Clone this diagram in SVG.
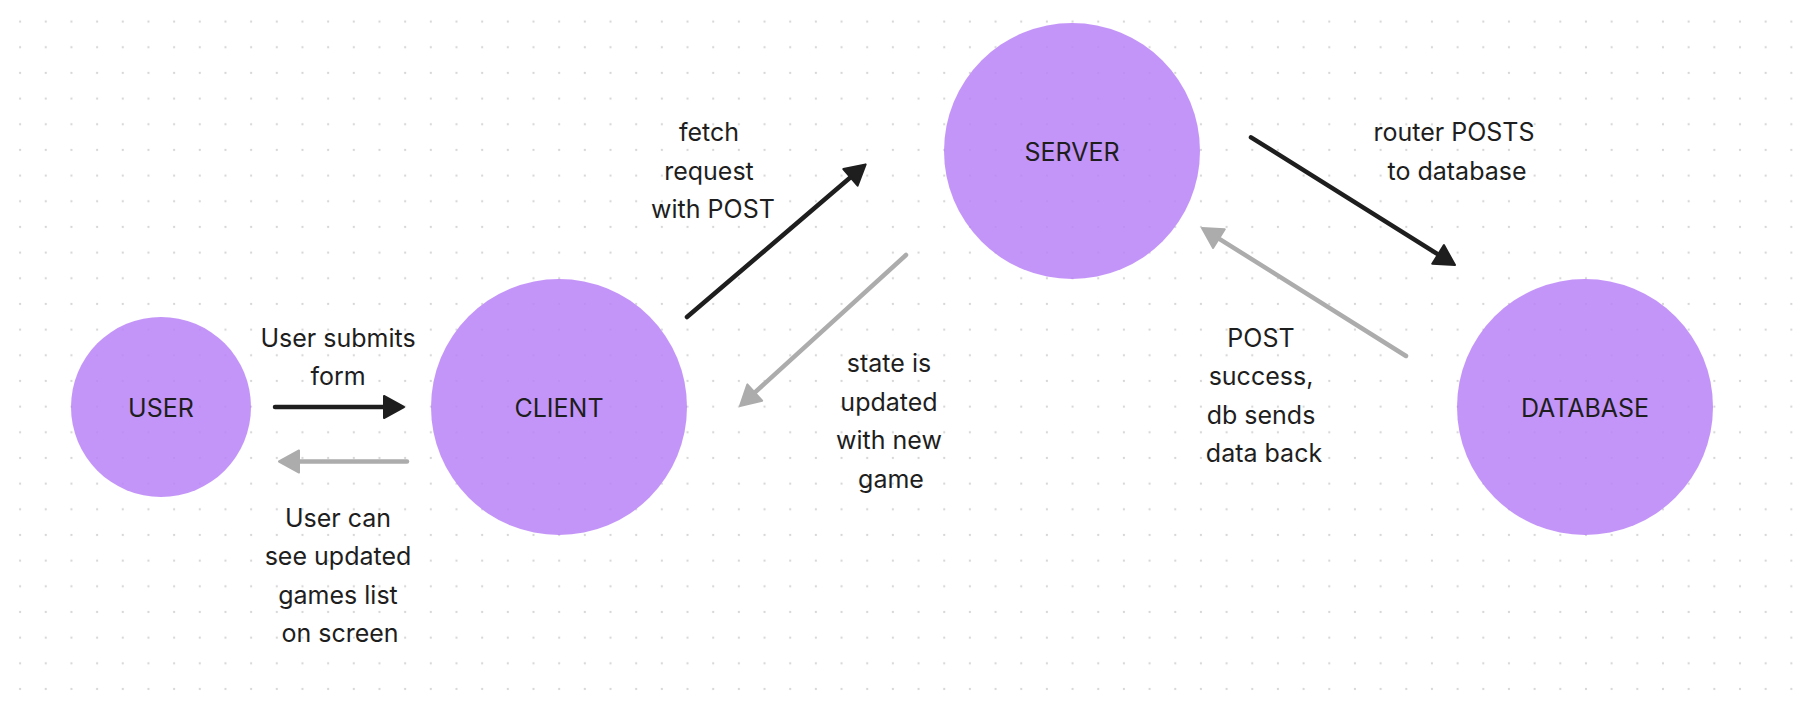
<svg xmlns="http://www.w3.org/2000/svg" width="1812" height="711" viewBox="0 0 1812 711">
  <style>
    .node { fill: rgb(186,130,247); fill-opacity: 0.85; }
    .label { font-family: Inter, "Noto Sans", "Liberation Sans", sans-serif; font-size: 25px; fill: #1e1e1e; text-anchor: middle; }
    .dark { stroke: #1e1e1e; stroke-width: 4.5; stroke-linecap: round; fill: none; }
    .light { stroke: #acacac; stroke-width: 4.5; stroke-linecap: round; fill: none; }
  </style>
  <defs>
    <pattern id="dots" patternUnits="userSpaceOnUse" x="7.27" y="8.77" width="25.67" height="25.67">
      <circle cx="12.835" cy="12.835" r="1.15" fill="#d6d6d6"/>
    </pattern>
    <marker id="headDark" markerUnits="userSpaceOnUse" viewBox="0 0 26 28" markerWidth="26" markerHeight="28" refX="12" refY="14" orient="auto">
      <path d="M23,14 L3,3 L3,25 Z" fill="#1e1e1e" stroke="#1e1e1e" stroke-width="2" stroke-linejoin="round"/>
    </marker>
    <marker id="headLight" markerUnits="userSpaceOnUse" viewBox="0 0 26 28" markerWidth="26" markerHeight="28" refX="12" refY="14" orient="auto">
      <path d="M23,14 L3,3 L3,25 Z" fill="#acacac" stroke="#acacac" stroke-width="2" stroke-linejoin="round"/>
    </marker>
  </defs>
  <rect width="1812" height="711" fill="#ffffff"/>
  <rect width="1812" height="711" fill="url(#dots)"/>

  <g id="user">
    <circle class="node" cx="161" cy="407" r="90"/>
    <text class="label" x="161" y="416.7">USER</text>
  </g>
  <g id="client">
    <circle class="node" cx="559" cy="407" r="128"/>
    <text class="label" x="559" y="416.7">CLIENT</text>
  </g>
  <g id="server">
    <circle class="node" cx="1072" cy="151" r="128"/>
    <text class="label" x="1072" y="160.7">SERVER</text>
  </g>
  <g id="database">
    <circle class="node" cx="1585" cy="407" r="128"/>
    <text class="label" x="1585" y="417">DATABASE</text>
  </g>

  <g id="connectors">
    <line class="dark" x1="275" y1="407" x2="393" y2="407" marker-end="url(#headDark)"/>
    <line class="light" x1="407" y1="461.5" x2="290" y2="461.5" marker-end="url(#headLight)"/>
    <line class="dark" x1="687" y1="317" x2="857.3" y2="171.5" marker-end="url(#headDark)"/>
    <line class="light" x1="906" y1="255" x2="748.1" y2="398.6" marker-end="url(#headLight)"/>
    <line class="dark" x1="1251" y1="137.3" x2="1445.7" y2="259.2" marker-end="url(#headDark)"/>
    <line class="light" x1="1406" y1="356" x2="1211.3" y2="233.8" marker-end="url(#headLight)"/>
  </g>

  <g id="connector-labels">
    <text class="label" x="338" y="346.7">User submits</text>
    <text class="label" x="338" y="385.2">form</text>

    <text class="label" x="338" y="526.7">User can</text>
    <text class="label" x="338" y="565.2">see updated</text>
    <text class="label" x="338" y="603.7">games list</text>
    <text class="label" x="340" y="642.2">on screen</text>

    <text class="label" x="709" y="141">fetch</text>
    <text class="label" x="709" y="179.5">request</text>
    <text class="label" x="713" y="218">with POST</text>

    <text class="label" x="889" y="372.4">state is</text>
    <text class="label" x="889" y="410.9">updated</text>
    <text class="label" x="889" y="449.4">with new</text>
    <text class="label" x="891" y="487.9">game</text>

    <text class="label" x="1454" y="141">router POSTS</text>
    <text class="label" x="1457" y="179.5">to database</text>

    <text class="label" x="1261" y="346.7">POST</text>
    <text class="label" x="1261" y="385.2">success,</text>
    <text class="label" x="1261" y="423.7">db sends</text>
    <text class="label" x="1264" y="462.2">data back</text>
  </g>
</svg>
